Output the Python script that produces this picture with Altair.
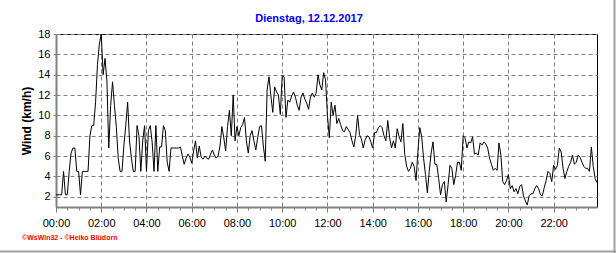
import altair as alt
import pandas as pd

title_text = "Dienstag, 12.12.2017"
y_title = "Wind (km/h)"
footer_text = "©WsWin32 - ©Heiko Blüdorn"
step_minutes = 5
x_tick_values = [h * 0.5 for h in range(48)]
y_tick_values = [2, 4, 6, 8, 10, 12, 14, 16, 18]

h00 = [2.2, 2.2, 2.2, 2.2, 4.5, 2.2, 2.2, 4.5, 6.3, 6.8, 6.8, 4.5]
h01 = [4.5, 2.2, 4.5, 4.5, 4.5, 4.5, 8.0, 9.0, 9.0, 11.3, 15.0, 17.0]
h02 = [18.0, 14.0, 15.6, 13.4, 6.8, 11.0, 13.3, 11.0, 8.9, 5.8, 4.5, 4.5]
h03 = [7.0, 9.0, 11.3, 7.5, 5.8, 4.5, 4.5, 9.0, 8.0, 4.5, 7.5, 9.0]
h04 = [4.5, 8.5, 9.0, 7.4, 4.5, 9.0, 4.5, 6.9, 6.9, 9.0, 8.5, 5.4]
h05 = [4.5, 6.8, 6.8, 6.8, 6.8, 6.8, 6.9, 6.0, 5.2, 5.8, 6.2, 5.9]
h06 = [5.3, 6.5, 7.5, 5.8, 7.0, 5.9, 5.7, 6.0, 5.8, 5.7, 6.2, 6.6]
h07 = [6.1, 5.8, 6.0, 7.0, 8.9, 7.8, 6.5, 8.9, 10.5, 8.0, 12.0, 7.5]
h08 = [8.9, 8.0, 8.8, 9.1, 9.8, 7.5, 6.3, 8.0, 8.5, 7.5, 6.6, 7.8]
h09 = [8.9, 9.0, 7.0, 5.5, 12.5, 13.8, 11.9, 10.3, 12.8, 12.3, 12.0, 10.1]
h10 = [13.9, 13.8, 9.8, 11.5, 11.3, 11.9, 12.3, 11.8, 11.0, 10.5, 11.8, 12.2]
h11 = [11.6, 11.2, 10.6, 11.8, 12.2, 11.8, 12.2, 14.0, 13.0, 12.5, 14.2, 13.5]
h12 = [10.0, 7.8, 11.3, 10.0, 11.0, 9.2, 9.7, 9.1, 8.5, 8.4, 8.9, 8.6]
h13 = [8.3, 7.5, 6.9, 8.0, 10.0, 8.1, 7.7, 6.8, 7.6, 8.0, 7.9, 7.4]
h14 = [6.8, 8.3, 8.3, 8.8, 9.0, 8.8, 8.0, 7.5, 9.5, 7.8, 6.8, 7.5]
h15 = [6.8, 8.7, 7.9, 7.4, 9.2, 6.2, 5.0, 4.5, 4.8, 5.4, 5.0, 3.6]
h16 = [6.5, 8.8, 7.9, 5.8, 4.2, 2.4, 4.5, 6.3, 7.4, 5.2, 5.2, 3.8]
h17 = [2.2, 3.2, 3.5, 1.5, 3.2, 5.1, 4.8, 3.2, 4.1, 5.4, 5.4, 4.6]
h18 = [8.0, 7.8, 6.8, 7.4, 7.3, 7.9, 6.2, 6.3, 6.1, 7.3, 7.1, 7.4]
h19 = [7.2, 6.8, 5.8, 5.2, 4.6, 4.8, 4.6, 7.3, 6.1, 3.5, 3.2, 3.6]
h20 = [4.2, 2.8, 3.1, 2.5, 2.8, 2.3, 3.0, 3.2, 2.1, 1.6, 1.2, 2.1]
h21 = [2.3, 2.3, 2.8, 3.1, 2.8, 2.2, 2.1, 2.9, 3.6, 4.5, 4.3, 3.5]
h22 = [5.1, 4.7, 5.1, 6.8, 6.4, 4.8, 3.8, 4.5, 5.0, 5.4, 6.1, 5.2]
h23 = [5.4, 6.1, 5.9, 5.4, 5.0, 4.8, 4.8, 4.5, 6.9, 5.0, 3.8, 3.4]

wind = (h00 + h01 + h02 + h03 + h04 + h05 + h06 + h07 + h08 + h09 + h10 + h11
        + h12 + h13 + h14 + h15 + h16 + h17 + h18 + h19 + h20 + h21 + h22 + h23)
hours = [i * step_minutes / 60 for i in range(len(wind))]
df = pd.DataFrame({"hour": hours, "wind": wind})

x_max = hours[-1]

major = "datum.value % 2 === 0"

line = alt.Chart(df).mark_line(color="black", strokeWidth=1).encode(
    x=alt.X(
        "hour:Q",
        scale=alt.Scale(domain=[0, x_max], nice=False, zero=False),
        axis=alt.Axis(
            values=x_tick_values,
            title=None,
            labelExpr=f"{major} ? format(datum.value, '02d') + ':00' : ''",
            labelFlush=False,
            labelOverlap=False,
            labelPadding=5,
            tickSize={"condition": {"test": major, "value": 5}, "value": 3},
            gridOpacity={"condition": {"test": major, "value": 1}, "value": 0},
        ),
    ),
    y=alt.Y(
        "wind:Q",
        scale=alt.Scale(domain=[1, 18], nice=False, zero=False),
        axis=alt.Axis(
            values=y_tick_values,
            title=y_title,
            titleFont="Liberation Sans",
            titleFontSize=12,
            titleFontWeight="bold",
            titleColor="black",
            titlePadding=4,
            tickSize=3,
            labelPadding=3,
            format="d",
        ),
    ),
)

frame_df = pd.DataFrame({"a": [0]})
frame_right = alt.Chart(frame_df).mark_rule(color="#a0a0a0", strokeWidth=2).encode(
    x=alt.value(558.5), y=alt.value(-34), y2=alt.value(219)
)
frame_bottom = alt.Chart(frame_df).mark_rule(color="#a0a0a0", strokeWidth=2).encode(
    y=alt.value(217.5), x=alt.value(-56), x2=alt.value(560)
)

title_df = pd.DataFrame({"t": [title_text]})
title = alt.Chart(title_df).mark_text(
    align="center", baseline="middle", fontSize=11, fontWeight="bold",
    color="#0000ff", font="Liberation Sans"
).encode(x=alt.value(253), y=alt.value(-15), text="t:N")

footer_df = pd.DataFrame({"t": [footer_text]})
footer = alt.Chart(footer_df).mark_text(
    align="left", baseline="middle", fontSize=7, fontWeight="bold",
    color="#ff0000", font="Liberation Sans"
).encode(x=alt.value(-34), y=alt.value(204), text="t:N")

chart = alt.layer(line, frame_right, frame_bottom, title, footer).properties(
    width=541,
    height=173,
    background="white",
    autosize=alt.AutoSizeParams(type="none"),
    padding={"left": 56, "top": 34, "right": 19, "bottom": 46},
).configure_view(
    stroke="black", strokeWidth=1
).configure_axis(
    domainColor="#808080", domainWidth=2, tickColor="#808080",
    gridColor="#808080", gridDash=[4, 3], gridWidth=1,
    labelFont="Liberation Sans", labelFontSize=11, labelColor="black",
)

chart.save("out.html", embed_options={"renderer": "svg", "actions": False})
